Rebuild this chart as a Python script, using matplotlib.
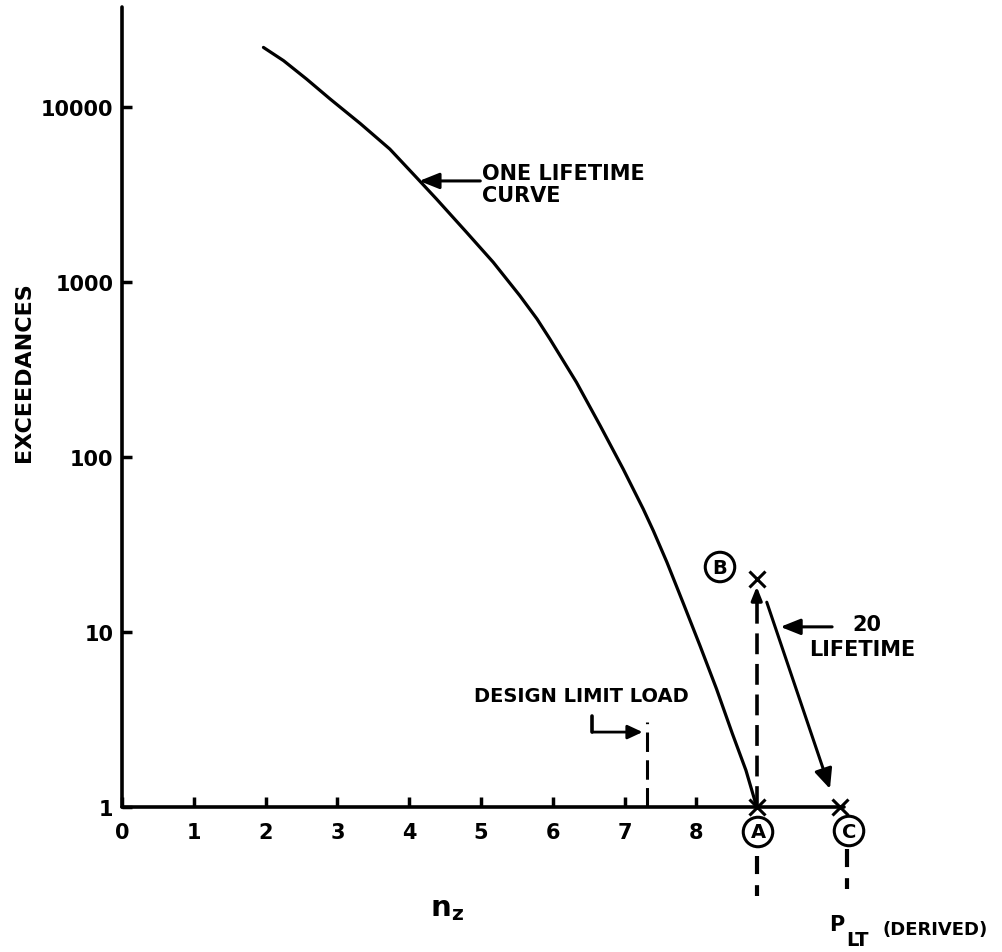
import matplotlib
matplotlib.use('Agg')
import matplotlib.pyplot as plt
from matplotlib.ticker import FixedLocator, FixedFormatter, NullLocator

# ---------------- data ----------------
nz_curve = [1.97, 2.25, 2.57, 2.90, 3.32, 3.73, 4.10, 4.38, 4.80, 5.17,
            5.54, 5.78, 5.96, 6.33, 6.66, 6.98, 7.12, 7.26, 7.40, 7.59,
            7.82, 8.05, 8.28, 8.50, 8.69, 8.84]
exc_curve = [21900, 18400, 14450, 11100, 8035, 5750, 3960, 2980, 1920, 1297,
             836, 615, 472, 267, 151, 85.4, 65.6, 50.4, 37.9, 25.0,
             14.5, 8.35, 4.73, 2.63, 1.62, 1.0]

lt20_nz = [8.98, 9.86]      # 20 lifetime line (arrow)
lt20_exc = [14.8, 1.27]

point_A = (8.84, 1.0)
point_B = (8.84, 20.0)
point_C = (10.0, 1.0)

design_limit_nz = 7.31
design_limit_top = 3.06

xticks = [0, 1, 2, 3, 4, 5, 6, 7, 8]
xticklabels = ['0', '1', '2', '3', '4', '5', '6', '7', '8']
yticks = [1, 10, 100, 1000, 10000]
yticklabels = ['1', '10', '100', '1000', '10000']

# ---------------- figure ----------------
plt.rcParams['font.family'] = ['DejaVu Sans']
plt.rcParams['lines.scale_dashes'] = False
plt.rcParams['mathtext.fontset'] = 'dejavusans'

W, H = 1002, 953
fig = plt.figure(figsize=(W / 100, H / 100), dpi=100)
ax = fig.add_axes([122 / W, 1 - 808 / H, (843.6 - 122) / W, 800 / H])
ax.set_yscale('log')
ax.set_xlim(0, 10.05)
ax.set_ylim(1, 10 ** (800 / 175))

for s in ('top', 'right'):
    ax.spines[s].set_visible(False)
for s in ('left', 'bottom'):
    ax.spines[s].set_linewidth(2.6)
    ax.spines[s].set_capstyle('round')

ax.xaxis.set_major_locator(FixedLocator(xticks))
ax.xaxis.set_major_formatter(FixedFormatter(xticklabels))
ax.yaxis.set_major_locator(FixedLocator(yticks))
ax.yaxis.set_major_formatter(FixedFormatter(yticklabels))
ax.yaxis.set_minor_locator(NullLocator())
ax.xaxis.set_minor_locator(NullLocator())
ax.tick_params(axis='both', direction='in', length=7, width=2.5, labelsize=15)
ax.tick_params(axis='x', pad=11)
ax.tick_params(axis='y', pad=6)
for lab in ax.get_xticklabels() + ax.get_yticklabels():
    lab.set_fontweight('bold')

# one lifetime curve
ax.plot(nz_curve, exc_curve, color='black', lw=2.3, solid_capstyle='round',
        solid_joinstyle='round', clip_on=False)

# 20 lifetime arrow
ax.annotate('', xy=(lt20_nz[1], lt20_exc[1]), xytext=(lt20_nz[0], lt20_exc[0]),
            arrowprops=dict(arrowstyle='-|>,head_length=0.6,head_width=0.27',
                            color='black', lw=2.2, shrinkA=0, shrinkB=0,
                            mutation_scale=20))

# crosses
for p in (point_A, point_B, point_C):
    ax.plot([p[0]], [p[1]], marker='x', color='black', ms=11, mew=2.2,
            clip_on=False, zorder=5)

# dashed A -> B with arrowhead
ax.plot([point_A[0], point_A[0]], [point_A[1], 16.5], color='black', lw=2.6,
        dashes=(15, 7), clip_on=False)
ax.annotate('', xy=(point_B[0], 18.2), xytext=(point_B[0], 15.5),
            arrowprops=dict(arrowstyle='-|>,head_length=0.4,head_width=0.16',
                            color='black', lw=2.4, shrinkA=0, shrinkB=0,
                            mutation_scale=20))

# dashed segments below A and C
ax.plot([point_A[0], point_A[0]], [0.525, 0.31], color='black', lw=3,
        dashes=(13, 8), clip_on=False)
ax.plot([10.1, 10.1], [0.575, 0.34], color='black', lw=3,
        dashes=(13, 8), clip_on=False)

# design limit load
ax.plot([design_limit_nz, design_limit_nz], [1.0, design_limit_top],
        color='black', lw=2.2, dashes=(14, 6), clip_on=False)
ax.plot([6.55, 6.55], [2.68, 3.3], color='black', lw=2.6, solid_capstyle='round')
ax.annotate('', xy=(7.25, 2.68), xytext=(6.55, 2.68),
            arrowprops=dict(arrowstyle='-|>,head_length=0.45,head_width=0.21',
                            color='black', lw=2.0, shrinkA=0, shrinkB=0,
                            mutation_scale=20))

# one lifetime curve pointer
ax.annotate('', xy=(4.14, 3780), xytext=(4.99, 3780),
            arrowprops=dict(arrowstyle='-|>,head_length=0.6,head_width=0.24',
                            color='black', lw=2.2, shrinkA=0, shrinkB=0,
                            mutation_scale=20))

# 20 lifetime label pointer
ax.annotate('', xy=(9.17, 10.7), xytext=(9.89, 10.7),
            arrowprops=dict(arrowstyle='-|>,head_length=0.6,head_width=0.24',
                            color='black', lw=2.2, shrinkA=0, shrinkB=0,
                            mutation_scale=20), annotation_clip=False)


# ---------------- texts ----------------
def P(px, py):
    return (px / W, 1 - py / H)


fig.text(*P(24, 372), 'EXCEEDANCES', rotation=90, ha='center', va='center',
         fontsize=16, fontweight='bold')
fig.text(*P(447, 909), r'$\mathbf{n}_{\mathbf{z}}$', ha='center', va='center',
         fontsize=21)

fig.text(*P(482, 174), 'ONE LIFETIME', ha='left', va='center', fontsize=15,
         fontweight='bold')
fig.text(*P(482, 196), 'CURVE', ha='left', va='center', fontsize=15,
         fontweight='bold')

fig.text(*P(581, 697), 'DESIGN LIMIT LOAD', ha='center', va='center',
         fontsize=14, fontweight='bold')

fig.text(*P(867, 625), '20', ha='center', va='center', fontsize=15,
         fontweight='bold')
fig.text(*P(862, 650), 'LIFETIME', ha='center', va='center', fontsize=15,
         fontweight='bold')

circ = dict(boxstyle='circle,pad=0.27', fc='white', ec='black', lw=2.2)
fig.text(*P(720, 568), 'B', ha='center', va='center', fontsize=14,
         fontweight='bold', bbox=circ)
fig.text(*P(758, 833), 'A', ha='center', va='center', fontsize=14,
         fontweight='bold', bbox=circ)
fig.text(*P(849, 832), 'C', ha='center', va='center', fontsize=14,
         fontweight='bold', bbox=circ)

fig.text(*P(837, 925), 'P', ha='center', va='center', fontsize=15,
         fontweight='bold')
fig.text(*P(858, 941), 'LT', ha='center', va='center', fontsize=14,
         fontweight='bold')
fig.text(*P(882, 930), '(DERIVED)', ha='left', va='center', fontsize=13,
         fontweight='bold')

fig.savefig('out.png', dpi=100, facecolor='white')
